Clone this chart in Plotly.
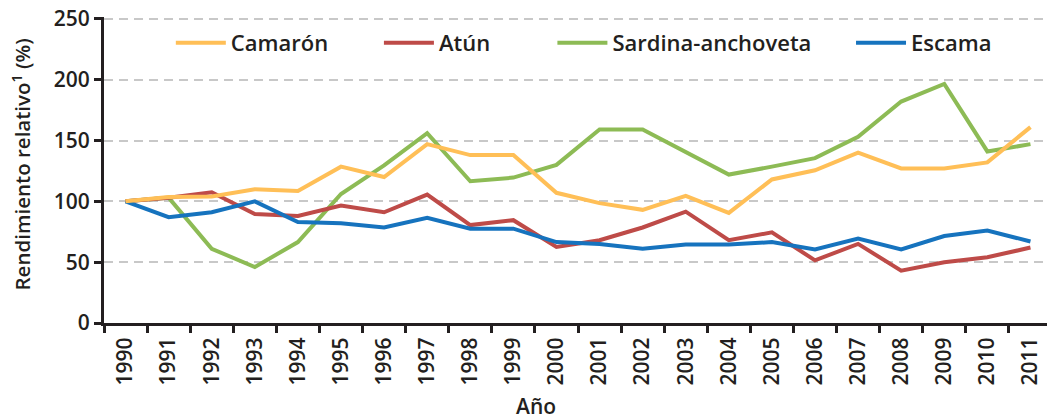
import plotly.graph_objects as go

years = [str(y) for y in range(1990, 2012)]
camaron = [100, 103.5, 104, 110, 108.5, 128.5, 120, 147, 138, 138, 107, 98.5, 93, 104.5, 90.5, 118, 125.5, 140, 127, 127, 132, 161]
atun = [100, 103, 107.5, 89.5, 88, 96.5, 91, 105.5, 80.5, 84.5, 62.5, 68, 78.5, 91.5, 68, 74.5, 51.5, 65, 43, 50, 54, 62]
sardina = [100, 103, 61, 46, 66.5, 106, 129.5, 156, 116.5, 119.5, 130, 159, 159, 140.5, 122, 128.5, 135.5, 153, 182, 196.5, 141, 147]
escama = [100, 87, 91, 100, 83, 82, 78.5, 86.5, 77.5, 77.5, 66.5, 65, 61, 64.5, 64.5, 66.5, 60.5, 69.5, 60.5, 71.5, 76, 67]
y_ticks = [0, 50, 100, 150, 200, 250]

FONT = "Open Sans"
DARK = "#231F20"

series = [
    ("Sardina-anchoveta", sardina, "#8DBB55", "legend3"),
    ("Atún", atun, "#BE4B48", "legend2"),
    ("Escama", escama, "#1673BE", "legend4"),
    ("Camarón", camaron, "#FFBF57", "legend"),
]

fig = go.Figure()
for name, vals, color, leg in series:
    fig.add_trace(go.Scatter(x=years, y=vals, name=name, mode="lines",
                             line=dict(color=color, width=4), legend=leg))

legfont = dict(family=FONT, size=22, color=DARK, weight=600)
common = dict(orientation="h", yanchor="middle", y=0.915, xanchor="left",
              font=legfont, itemwidth=50, bgcolor="rgba(0,0,0,0)", borderwidth=0)
fig.update_layout(
    legend=dict(x=0.0705, **common),
    legend2=dict(x=0.290, **common),
    legend3=dict(x=0.473, **common),
    legend4=dict(x=0.788, **common),
)

tickfont = dict(family=FONT, size=21, color=DARK, weight=600)
fig.update_layout(
    width=1047, height=412,
    margin=dict(l=96, r=3, t=9, b=97),
    plot_bgcolor="white", paper_bgcolor="white",
    showlegend=True,
    xaxis=dict(type="category", range=[-0.5, 21.5], tickangle=-90, automargin=False,
               ticks="outside", tickson="boundaries", ticklen=7, tickwidth=3, tickcolor=DARK,
               showline=True, linecolor=DARK, linewidth=3, showgrid=False,
               ticklabelstandoff=3, tickfont=tickfont, ticklabeloverflow="allow"),
    yaxis=dict(range=[0, 251.5], tickvals=y_ticks, ticks="outside", ticklen=7, tickwidth=3, tickcolor=DARK,
               showline=True, linecolor=DARK, linewidth=3, zeroline=False, automargin=False,
               showgrid=True, gridcolor="#C8C8C8", gridwidth=2, griddash="9px,6px",
               tickfont=tickfont, ticklabeloverflow="allow"),
    annotations=[
        dict(text="Rendimiento relativo<sup>1</sup> (%)", xref="paper", yref="paper",
             x=-0.0865, y=0.518, xanchor="center", yanchor="middle", textangle=-90,
             showarrow=False, font=dict(family=FONT, size=20.5, color=DARK, weight=600)),
        dict(text="Año", xref="paper", yref="paper", x=0.4557, y=-0.272,
             xanchor="center", yanchor="middle", showarrow=False,
             font=dict(family=FONT, size=21, color=DARK, weight=600)),
    ],
)

fig.write_html("out.html")
